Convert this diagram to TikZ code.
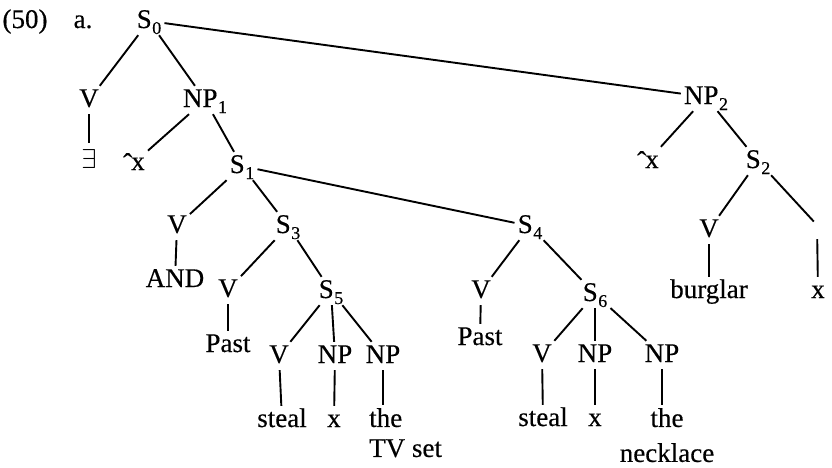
\documentclass[tikz,border=0pt]{standalone}
\usepackage{fontspec}
\setmainfont{Liberation Serif}[FakeBold=0.4]
\newcommand\treefont{\fontsize{27}{30}\selectfont}
\newcommand\idx[1]{\kern0.5pt\raisebox{-6pt}{\fontsize{18}{18}\selectfont #1}}
\newcommand\bind{\raisebox{-2pt}{ˆ}\kern-1pt x}
\begin{document}
\begin{tikzpicture}[x=1pt,y=-1pt,
  lab/.style={font=\treefont, inner sep=3pt, text height=18pt, text depth=4pt, anchor=base},
  multi/.style={font=\treefont, inner sep=3pt},
  edge/.style={line width=1.9pt}]
\useasboundingbox (0,0) rectangle (832,467);

% example number and sub-label
\node[lab] (num) at (25,28) {(50)};
\node[lab] (part) at (83,28) {a.};

% top of the tree
\node[lab] (s0)  at (149,28)  {S\idx{0}};
\node[lab] (v1)  at (89,107)  {V};
\node[lab, text height=22pt] (ex)  at (89,168)  {\scalebox{1.1}{$\exists$}};
\node[lab] (np1) at (205,107) {NP\idx{1}};
\node[lab] (xa)  at (134,170) {\bind};
\node[lab] (s1)  at (242,173) {S\idx{1}};

% right-hand NP
\node[lab] (np2)  at (706,104) {NP\idx{2}};
\node[lab] (xb)   at (648,168) {\bind};
\node[lab] (s2)   at (758,168) {S\idx{2}};
\node[lab] (v2)   at (709,237) {V};
\node[lab] (burg) at (709,298) {burglar};
\node[lab] (gap)  at (817,232) {};
\node[lab] (x2)   at (818,298) {x};

% first conjunct
\node[lab] (v3)     at (177,233) {V};
\node[lab] (and)    at (175,287) {AND};
\node[lab] (s3)     at (288,233) {S\idx{3}};
\node[lab] (v4)     at (228,297) {V};
\node[lab] (past1)  at (228,352) {Past};
\node[lab] (s5)     at (331,298) {S\idx{5}};
\node[lab] (v5)     at (279,363) {V};
\node[lab] (np3)    at (335,363) {NP};
\node[lab] (np4)    at (383,363) {NP};
\node[lab] (steal1) at (282,427) {steal};
\node[lab] (x3)     at (334,427) {x};
\node[multi, anchor=north west, align=left] (tv) at (366,405) {the\\TV set};

% second conjunct
\node[lab] (s4)     at (530,233) {S\idx{4}};
\node[lab] (v6)     at (481,298) {V};
\node[lab] (past2)  at (480,345) {Past};
\node[lab] (s6)     at (595,301) {S\idx{6}};
\node[lab] (v7)     at (542,362) {V};
\node[lab] (np5)    at (595,362) {NP};
\node[lab] (np6)    at (662,362) {NP};
\node[lab] (steal2) at (543,426) {steal};
\node[lab] (x4)     at (595,426) {x};
\node[multi, anchor=north, align=center] (neck) at (667,405) {the\\[5pt]necklace};

% branches
\draw[edge] (s0) -- (v1);
\draw[edge] (s0) -- (np1);
\draw[edge] (s0) -- (np2);
\draw[edge] (v1) -- (ex);
\draw[edge] (np1) -- (xa);
\draw[edge] (np1) -- (s1);
\draw[edge] (s1) -- (v3);
\draw[edge] (s1) -- (s3);
\draw[edge] (s1) -- (s4);
\draw[edge] (v3) -- (and);
\draw[edge] (s3) -- (v4);
\draw[edge] (s3) -- (s5);
\draw[edge] (v4) -- (past1);
\draw[edge] (s5) -- (v5);
\draw[edge] (s5) -- (np3);
\draw[edge] (s5) -- (np4);
\draw[edge] (v5) -- (steal1);
\draw[edge] (np3) -- (x3);
\draw[edge] (np4) -- (np4 |- tv.north);
\draw[edge] (s4) -- (v6);
\draw[edge] (s4) -- (s6);
\draw[edge] (v6) -- (past2);
\draw[edge] (s6) -- (v7);
\draw[edge] (s6) -- (np5);
\draw[edge] (s6) -- (np6);
\draw[edge] (v7) -- (steal2);
\draw[edge] (np5) -- (x4);
\draw[edge] (np6) -- (np6 |- neck.north);
\draw[edge] (np2) -- (xb);
\draw[edge] (np2) -- (s2);
\draw[edge] (s2) -- (v2);
\draw[edge] (s2) -- (gap);
\draw[edge] (v2) -- (burg);
\draw[edge] (gap) -- (x2);
\end{tikzpicture}
\end{document}
